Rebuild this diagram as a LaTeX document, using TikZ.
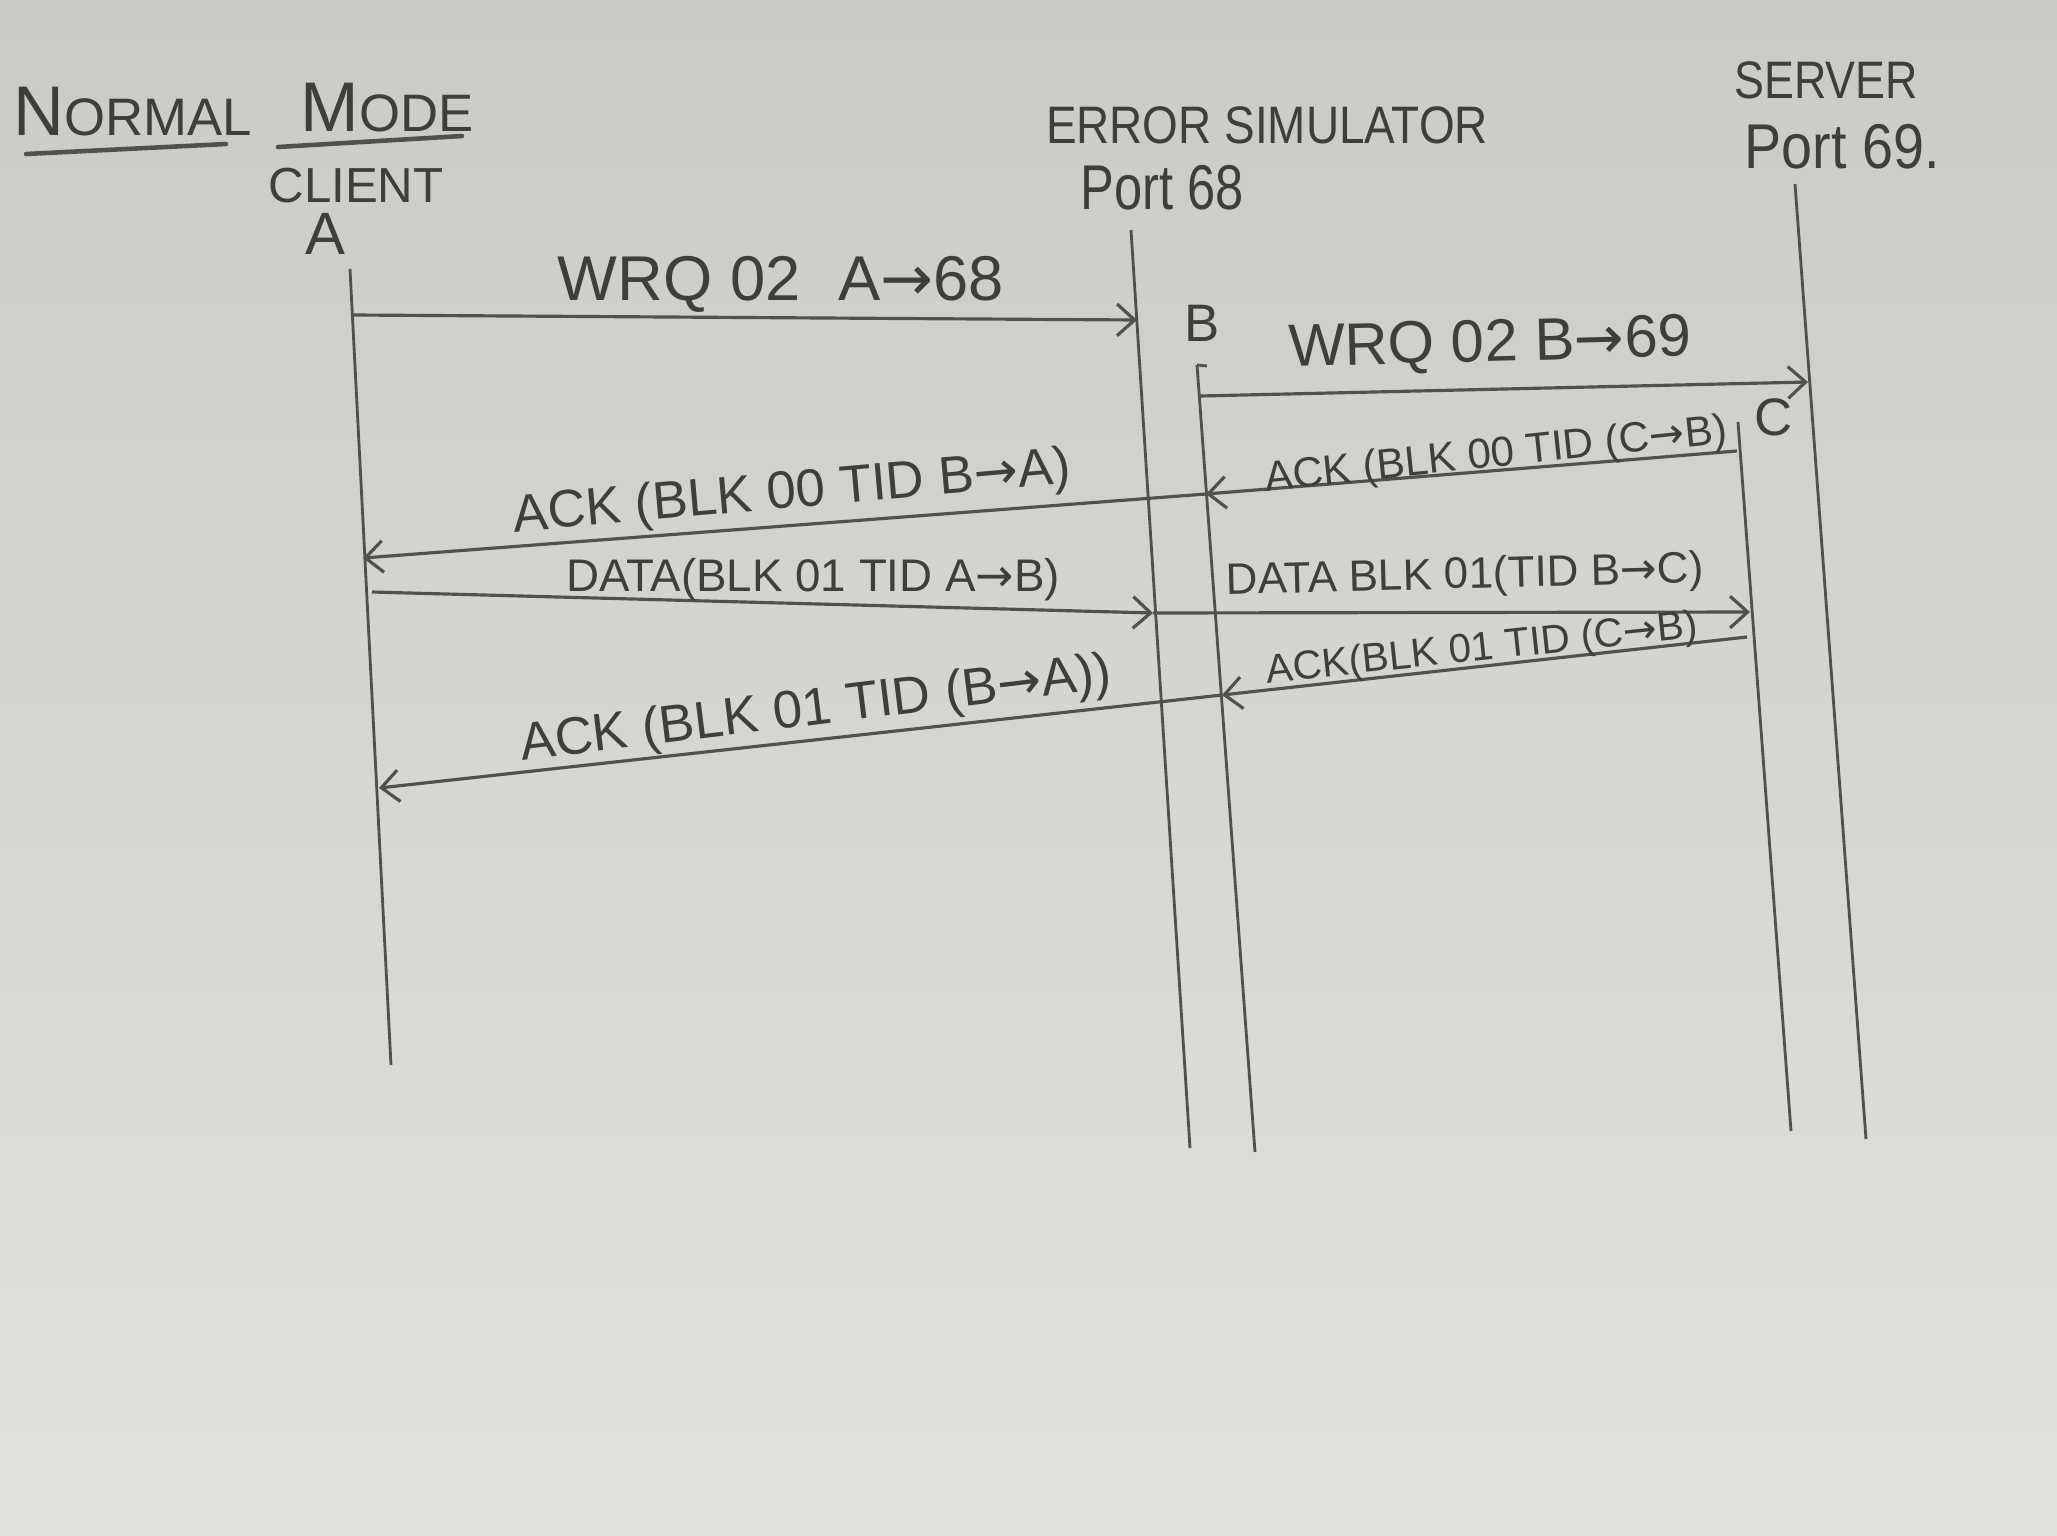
\documentclass[tikz,border=0pt]{standalone}
\usepackage{fontspec}
\setmainfont{Liberation Sans}
\newfontfamily\symfont{DejaVu Sans}
\usetikzlibrary{arrows.meta,calc}
\definecolor{paperTop}{RGB}{203,203,198}
\definecolor{paperBot}{RGB}{224,224,221}
\definecolor{pencil}{RGB}{80,80,78}
\definecolor{lead}{RGB}{62,62,60}
\newcommand{\ra}{{\symfont\char"2192}}
\newcommand{\fs}[1]{\fontsize{#1}{#1}\selectfont}

\begin{document}
\begin{tikzpicture}[x=0.01cm,y=-0.01cm,
  life/.style={draw=pencil,line width=0.8pt},
  uline/.style={draw=pencil,line width=1.3pt,line cap=round},
  msg/.style={draw=pencil,line width=0.9pt,-{Straight Barb[length=5pt,width=9pt]}},
  lbl/.style={text=lead,inner sep=0pt}]

% paper
\shade[top color=paperTop,bottom color=paperBot] (0,0) rectangle (2057,1536);
\useasboundingbox (0,0) rectangle (2057,1536);

% heading
\node[lbl] (normal) at (133,112) {{\fs{20}N}{\fs{15}ORMAL}};
\node[lbl] (mode) at (387,108) {{\fs{20}M}{\fs{15}ODE}};
\draw[uline] (26,154) -- (226,144);
\draw[uline] (278,147) -- (462,136);

% participants
\node[lbl,font=\fs{14}] (client) at (356,186) {CLIENT};
\node[lbl,font=\fs{17}] (tagA) at (325,234) {A};
\node[lbl,font=\fs{15},xscale=0.87] (errsim) at (1267,125) {ERROR SIMULATOR};
\node[lbl,font=\fs{18},xscale=0.8] (port68) at (1162,188) {Port 68};
\node[lbl,font=\fs{15},xscale=0.85] (server) at (1826,80) {SERVER};
\node[lbl,font=\fs{18},xscale=0.88] (port69) at (1842,147) {Port 69.};
\node[lbl,font=\fs{15}] (tagB) at (1202,323) {B};
\node[lbl,font=\fs{15}] (tagC) at (1774,417) {C};

% lifelines
\coordinate (a0) at (350,269);  \coordinate (a1) at (391,1065);
\coordinate (e0) at (1131,230); \coordinate (e1) at (1190,1148);
\coordinate (b0) at (1197,365); \coordinate (b1) at (1255,1152);
\coordinate (c0) at (1738,422); \coordinate (c1) at (1791,1131);
\coordinate (s0) at (1795,184); \coordinate (s1) at (1866,1139);
\draw[life] (a0) -- (a1);
\draw[life] (e0) -- (e1);
\draw[life] (b0) -- (b1);
\draw[life] (b0) -- ++(10,1);
\draw[life] (c0) -- (c1);
\draw[life] (s0) -- (s1);

% message end points
\coordinate (m1s) at (354,315);  \coordinate (m1e) at (1137,320);
\coordinate (m2s) at (1200,396); \coordinate (m2e) at (1808,382);
\coordinate (m3s) at (1737,451); \coordinate (m3e) at (1206,494);
\coordinate (m4e) at (363,558);
\coordinate (m5s) at (372,592);  \coordinate (m5e) at (1153,613);
\coordinate (m6e) at (1750,612);
\coordinate (m7s) at (1747,637); \coordinate (m7e) at (1222,695);
\coordinate (m8e) at (379,788);

% messages
\draw[msg] (m1s) -- (m1e);
\draw[msg] (m2s) -- (m2e);
\draw[msg] (m3s) -- (m3e);
\draw[msg] (m3e) -- (m4e);
\draw[msg] (m5s) -- (m5e);
\draw[msg] (m5e) -- (m6e);
\draw[msg] (m7s) -- (m7e);
\draw[msg] (m7e) -- (m8e);

% message labels
\node[lbl,font=\fs{18}] (t1) at (781,284) {WRQ 02\hspace{0.6em}A\ra68};
\node[lbl,font=\fs{17},rotate=1.5] (t2) at (1490,346) {WRQ 02 B\ra69};
\node[lbl,font=\fs{12},rotate=6] (t3) at (1496,456) {ACK (BLK 00 TID (C\ra B)};
\node[lbl,font=\fs{15},rotate=5] (t4) at (792,494) {ACK (BLK 00 TID B\ra A)};
\node[lbl,font=\fs{13}] (t5) at (813,580) {DATA(BLK 01 TID A\ra B)};
\node[lbl,font=\fs{12.5},rotate=1.5] (t6) at (1465,577) {DATA BLK 01(TID B\ra C)};
\node[lbl,font=\fs{11.5},rotate=6] (t7) at (1482,650) {ACK(BLK 01 TID (C\ra B)};
\node[lbl,font=\fs{15},rotate=7] (t8) at (816,711) {ACK (BLK 01 TID (B\ra A))};
\end{tikzpicture}
\end{document}
